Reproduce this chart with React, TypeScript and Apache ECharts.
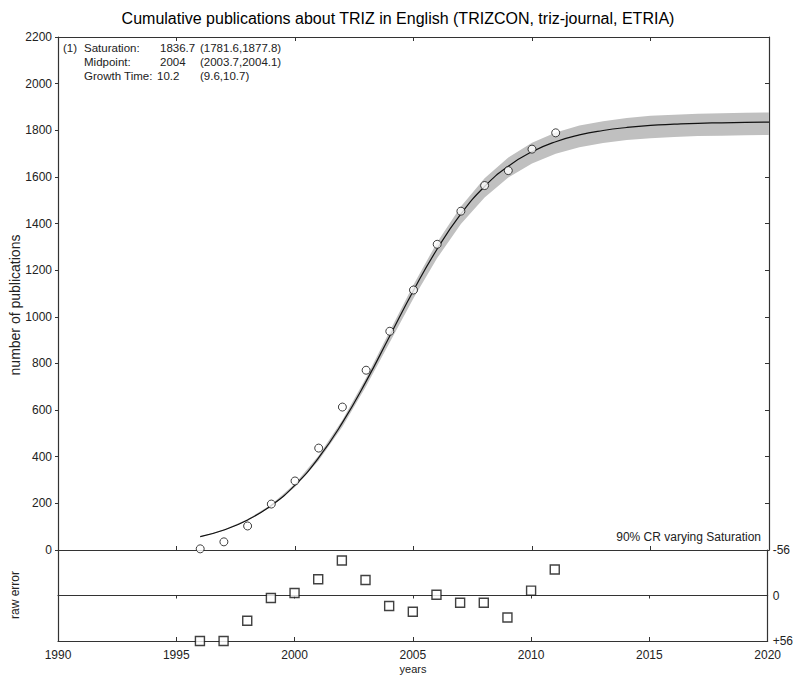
import React, { useEffect, useRef } from "react";
import * as echarts from "echarts";

const dataYears = [1996, 1997, 1998, 1999, 2000, 2001, 2002, 2003, 2004, 2005, 2006, 2007, 2008, 2009, 2010, 2011];
const publications = [5, 35, 103, 197, 296, 437, 613, 771, 938, 1115, 1311, 1453, 1563, 1627, 1719, 1789];
const rawError = [56, 56, 31, 3, -3, -20, -43, -19, 13, 20, -1, 9, 9, 27, -6, -32];

const fitYears = [1996, 1997, 1998, 1999, 2000, 2001, 2002, 2003, 2004, 2005, 2006, 2007, 2008, 2009, 2010, 2011, 2012, 2013, 2014, 2015, 2016, 2017, 2018, 2019, 2020];
const fitValues = [57, 86, 129, 191, 278, 396, 546, 723, 918, 1113, 1291, 1441, 1559, 1646, 1708, 1751, 1780, 1799, 1812, 1821, 1826, 1830, 1832, 1834, 1835];
const bandLower = [55, 83, 125, 185, 270, 384, 529, 702, 891, 1080, 1252, 1398, 1512, 1597, 1657, 1699, 1727, 1745, 1758, 1766, 1771, 1775, 1777, 1779, 1780];
const bandUpper = [58, 88, 132, 195, 284, 405, 558, 739, 939, 1138, 1320, 1473, 1594, 1683, 1746, 1790, 1820, 1839, 1853, 1862, 1867, 1871, 1873, 1875, 1876];

const titleText = "Cumulative publications about TRIZ in English (TRIZCON, triz-journal, ETRIA)";
const annotationRows = [
  ["(1)", "Saturation:", "1836.7", "(1781.6,1877.8)"],
  ["", "Midpoint:", "2004", "(2003.7,2004.1)"],
  ["", "Growth Time:", "10.2", "(9.6,10.7)"],
];
const bandNote = "90% CR varying Saturation";
const yName = "number of publications";
const errName = "raw error";
const xName = "years";

const FONT = "Liberation Sans, Arial, sans-serif";
const AX = "#333";
const TXT = "#222";

export default function App() {
  const ref = useRef<HTMLDivElement>(null);
  useEffect(() => {
    document.body.style.margin = "0";
    if (!ref.current) return;
    const chart = echarts.init(ref.current, undefined, { renderer: "svg" });
    const left = 58;
    const right = 27;

    const annotation: any[] = [];
    const colX = [63, 84, 160, 200];
    const rowY = [42, 56, 70];
    annotationRows.forEach((row, r) => {
      row.forEach((t, c) => {
        if (!t) return;
        annotation.push({
          type: "text",
          x: colX[c] - (r === 2 && c === 2 ? 3 : 0),
          y: rowY[r],
          style: { text: t, font: `11.5px ${FONT}`, fill: TXT },
        });
      });
    });

    const plain = (v: number) => String(v);

    const option: any = {
      animation: false,
      textStyle: { fontFamily: FONT },
      title: {
        text: titleText,
        left: "center",
        top: 5,
        textStyle: { fontSize: 16, fontWeight: "normal", color: "#000", fontFamily: FONT },
      },
      grid: [
        { left, right, top: 37, height: 513 },
        { left, right, top: 550, height: 91 },
      ],
      xAxis: [
        {
          gridIndex: 0, type: "value", min: 1990, max: 2020, interval: 5, position: "bottom",
          axisLine: { onZero: false, lineStyle: { color: AX, width: 1.2 } },
          axisTick: { inside: true, length: 4, lineStyle: { color: AX } },
          axisLabel: { show: false }, splitLine: { show: false },
        },
        {
          gridIndex: 0, type: "value", min: 1990, max: 2020, interval: 5, position: "top",
          axisLine: { onZero: false, lineStyle: { color: AX, width: 1.2 } },
          axisTick: { inside: true, length: 4, lineStyle: { color: AX } },
          axisLabel: { show: false }, splitLine: { show: false },
        },
        {
          gridIndex: 1, type: "value", min: 1990, max: 2020, interval: 5, position: "bottom",
          axisLine: { onZero: false, lineStyle: { color: AX, width: 1.2 } },
          axisTick: { inside: true, length: 4, lineStyle: { color: AX } },
          axisLabel: { color: TXT, fontSize: 12, margin: 8, fontFamily: FONT, formatter: plain },
          splitLine: { show: false },
        },
        {
          gridIndex: 1, type: "value", min: 1990, max: 2020, interval: 5, position: "top",
          axisLine: { onZero: true, onZeroAxisIndex: 2, lineStyle: { color: AX, width: 1.2 } },
          axisTick: { inside: true, length: 3, lineStyle: { color: AX } },
          axisLabel: { show: false }, splitLine: { show: false },
        },
      ],
      yAxis: [
        {
          gridIndex: 0, type: "value", min: 0, max: 2200, interval: 200, position: "left",
          axisLine: { show: true, onZero: false, lineStyle: { color: AX, width: 1.2 } },
          axisTick: { show: true, inside: false, length: 3, lineStyle: { color: AX } },
          axisLabel: { color: TXT, fontSize: 12, margin: 6, fontFamily: FONT, formatter: plain },
          splitLine: { show: false },
        },
        {
          gridIndex: 0, type: "value", min: 0, max: 2200, interval: 200, position: "right",
          axisLine: { show: true, onZero: false, lineStyle: { color: AX, width: 1.2 } },
          axisTick: { show: true, inside: true, length: 4, lineStyle: { color: AX } },
          axisLabel: { show: false }, splitLine: { show: false },
        },
        {
          gridIndex: 1, type: "value", min: -56, max: 56, interval: 56, position: "left", inverse: true,
          axisLine: { show: true, onZero: false, lineStyle: { color: AX, width: 1.2 } },
          axisTick: { show: false }, axisLabel: { show: false }, splitLine: { show: false },
        },
        {
          gridIndex: 1, type: "value", min: -56, max: 56, interval: 56, position: "right", inverse: true,
          axisLine: { show: true, onZero: false, lineStyle: { color: AX, width: 1.2 } },
          axisTick: { show: true, inside: true, length: 4, lineStyle: { color: AX } },
          axisLabel: {
            color: TXT, fontSize: 12, margin: 5, fontFamily: FONT,
            formatter: (v: number) => (v > 0 ? "+" + v : String(v)),
          },
          splitLine: { show: false },
        },
      ],
      graphic: [
        ...annotation,
        {
          type: "text", x: 761, y: 531,
          style: { text: bandNote, font: `12px ${FONT}`, fill: TXT, textAlign: "right" },
        },
        {
          type: "text", x: 15, y: 305, rotation: Math.PI / 2,
          style: { text: yName, font: `14px ${FONT}`, fill: TXT, textAlign: "center", textVerticalAlign: "middle" },
        },
        {
          type: "text", x: 15, y: 595, rotation: Math.PI / 2,
          style: { text: errName, font: `12px ${FONT}`, fill: TXT, textAlign: "center", textVerticalAlign: "middle" },
        },
        {
          type: "text", x: 413, y: 669,
          style: { text: xName, font: `11px ${FONT}`, fill: TXT, textAlign: "center", textVerticalAlign: "middle" },
        },
      ],
      series: [
        {
          type: "custom", xAxisIndex: 0, yAxisIndex: 0, silent: true, clip: true, z: 1,
          data: fitYears.map((y, i) => [y, bandLower[i], bandUpper[i]]),
          encode: { x: 0, y: [1, 2] },
          renderItem: (params: any, api: any) => {
            if (params.dataIndex !== 0) return null;
            const pts: number[][] = [];
            for (let i = 0; i < fitYears.length; i++) pts.push(api.coord([fitYears[i], bandUpper[i]]));
            for (let i = fitYears.length - 1; i >= 0; i--) pts.push(api.coord([fitYears[i], bandLower[i]]));
            return { type: "polygon", shape: { points: pts }, style: { fill: "#c0c0c0" } };
          },
        },
        {
          type: "line", xAxisIndex: 0, yAxisIndex: 0, symbol: "none", smooth: true,
          data: fitYears.map((y, i) => [y, fitValues[i]]),
          lineStyle: { color: "#111", width: 1.2 }, z: 3,
        },
        {
          type: "scatter", xAxisIndex: 0, yAxisIndex: 0, symbol: "circle", symbolSize: 8,
          data: dataYears.map((y, i) => [y, publications[i]]),
          itemStyle: { color: "#fff", borderColor: "#111", borderWidth: 1 }, z: 4,
        },
        {
          type: "scatter", xAxisIndex: 2, yAxisIndex: 2, symbol: "rect", symbolSize: 9,
          data: dataYears.map((y, i) => [y, rawError[i]]),
          itemStyle: { color: "#fff", borderColor: "#111", borderWidth: 1.4 }, z: 4,
        },
      ],
    };
    chart.setOption(option);
    return () => chart.dispose();
  }, []);
  return <div ref={ref} style={{ width: 796, height: 679 }} />;
}
